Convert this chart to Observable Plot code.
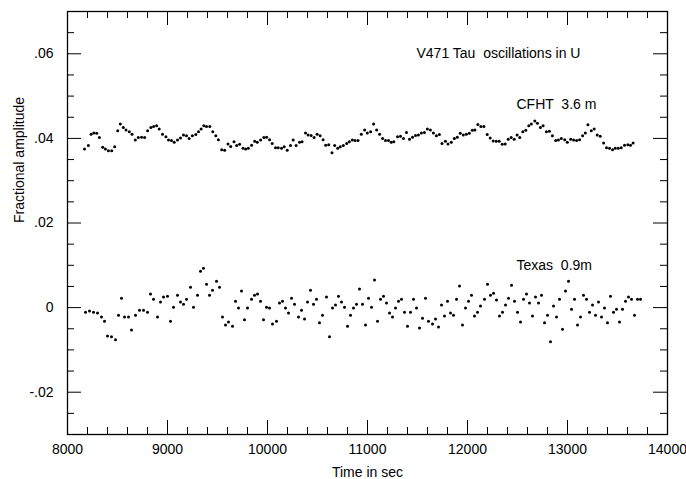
<!DOCTYPE html>
<html>
<head>
<meta charset="utf-8">
<script src="https://cdn.jsdelivr.net/npm/d3@7"></script>
<script src="https://cdn.jsdelivr.net/npm/@observablehq/plot@0.6"></script>
<style>
  html, body { margin: 0; padding: 0; background: white; }
  svg text { white-space: pre; }
</style>
</head>
<body>
<div id="chart"></div>
<script>
// ---- data ----
const cfhtTime = [8170,8209,8236,8263,8292,8319,8352,8379,8409,8442,8472,8502,8528,8558,8585,8618,8645,8678,8708,8741,8771,8801,8834,8861,8891,8917,8950,8984,9010,9040,9067,9100,9130,9160,9190,9216,9249,9283,9310,9336,9363,9390,9423,9453,9483,9509,
9542,9572,9605,9632,9665,9692,9721,9755,9781,9808,9841,9871,9898,9931,9964,9991,10021,10047,10080,10107,10140,10167,10197,10230,10257,10286,10320,10346,10380,10406,10436,10466,10496,10526,10556,10582,10612,10645,10672,10702,10728,10758,10792,10818,10848,10875,10905,10938,10971,10998,
11031,11061,11091,11121,11151,11180,11210,11237,11263,11300,11330,11360,11390,11420,11450,11480,11509,11539,11569,11599,11629,11659,11689,11719,11745,11779,11805,11838,11868,11898,11928,11958,11988,12018,12048,12074,12104,12134,12164,12197,12227,12257,12287,12317,12347,12377,12407,12437,12467,12496,
12523,12553,12583,12613,12639,12673,12699,12729,12756,12789,12819,12849,12882,12909,12938,12972,12998,13032,13061,13091,13121,13151,13178,13204,13238,13267,13297,13327,13361,13390,13420,13450,13477,13507,13537,13570,13603,13630,13656];
const cfhtValue = [.0375,.0383,.0410,.0413,.0412,.0402,.0379,.0375,.0371,.0371,.0380,.0418,.0434,.0426,.0420,.0416,.0410,.0396,.0402,.0403,.0402,.0418,.0426,.0428,.0430,.0422,.0410,.0404,.0396,.0395,.0391,.0396,.0401,.0408,.0406,.0400,.0406,.0409,.0416,.0422,.0430,.0428,.0428,.0416,.0406,.0397,
.0373,.0372,.0387,.0381,.0392,.0383,.0386,.0377,.0375,.0377,.0384,.0393,.0391,.0396,.0402,.0403,.0397,.0388,.0378,.0378,.0377,.0380,.0372,.0383,.0396,.0383,.0391,.0392,.0413,.0408,.0407,.0402,.0410,.0406,.0397,.0384,.0385,.0366,.0383,.0377,.0380,.0383,.0388,.0392,.0396,.0395,.0395,.0410,.0420,.0413,
.0416,.0434,.0420,.0410,.0400,.0395,.0395,.0391,.0392,.0404,.0405,.0400,.0414,.0398,.0403,.0407,.0408,.0413,.0414,.0422,.0420,.0413,.0406,.0409,.0388,.0393,.0387,.0391,.0400,.0403,.0412,.0408,.0410,.0412,.0419,.0420,.0433,.0428,.0428,.0409,.0401,.0394,.0393,.0393,.0386,.0387,.0398,.0402,.0398,.0408,
.0402,.0416,.0419,.0430,.0434,.0441,.0436,.0426,.0430,.0416,.0417,.0406,.0395,.0396,.0400,.0397,.0391,.0398,.0396,.0395,.0397,.0406,.0413,.0432,.0418,.0422,.0408,.0405,.0389,.0378,.0377,.0373,.0377,.0377,.0378,.0384,.0385,.0384,.0389];

const texasTime = [8180,8220,8260,8300,8340,8370,8400,8440,8480,8510,8540,8570,8610,8640,8680,8720,8760,8800,8830,8860,8900,8930,8960,9000,9030,9060,9100,9130,9160,9190,9230,9260,9300,9330,9360,9390,9420,9450,9490,9520,9550,9580,9610,9650,9680,9710,9740,9770,9800,9840,9870,9900,9930,9960,9990,10020,10050,10090,10120,10150,10180,10210,10240,10270,10310,10340,10370,10400,10430,10460,10490,10520,10550,10590,10620,10650,10680,10710,10740,10770,10800,10830,10860,10890,10920,10950,10980,11010,11040,11070,11100,11130,11160,11190,11220,11250,11280,11310,11340,11370,11400,11430,11460,11490,11520,11550,11580,11610,11650,11680,11710,11740,11770,11800,11830,11860,11890,11920,11950,11980,12010,12040,12070,12100,12130,12170,12200,12230,12260,12290,12320,12350,12380,12410,12440,12470,12500,12530,12560,12590,12620,12650,12680,12710,12740,12770,12800,12830,12860,12890,12920,12950,12980,13010,13040,13070,13100,13130,13160,13190,13220,13250,13280,13310,13340,13370,13400,13430,13460,13490,13520,13550,13580,13610,13640,13670,13700,13730];
const texasValue = [-.0011,-.0008,-.0011,-.0013,-.0022,-.0032,-.0067,-.0069,-.0076,-.0018,.0022,-.0022,-.0022,-.0053,-.0018,-.0006,-.0006,-.0011,.0032,.0020,-.0022,.0013,.0025,.0027,-.0032,.0001,.0029,.0013,.0008,.0020,.0048,.0001,.0029,.0086,.0093,.0055,.0029,.0041,.0062,.0048,-.0022,-.0041,-.0034,-.0044,.0015,-.0001,.0039,-.0029,-.0001,.0020,.0029,.0032,.0015,-.0029,.0001,-.0001,-.0039,-.0032,.0011,.0015,-.0001,-.0013,.0022,.0008,-.0022,-.0006,-.0027,.0013,.0041,.0008,.0020,-.0036,-.0018,.0025,-.0069,-.0001,.0006,.0027,.0013,.0001,-.0044,-.0018,-.0001,.0008,.0044,.0008,-.0041,.0022,.0001,.0065,-.0032,.0020,.0027,.0011,-.0013,-.0022,-.0001,.0015,.0020,-.0011,-.0044,-.0011,.0020,-.0001,-.0048,-.0025,.0022,-.0032,-.0039,-.0027,-.0046,.0006,-.0020,.0015,-.0013,-.0018,.0020,.0051,-.0041,-.0001,.0015,.0029,-.0020,-.0011,.0004,.0020,.0055,.0029,.0034,.0018,-.0020,-.0011,.0006,.0022,.0053,.0015,-.0011,-.0034,.0020,.0032,.0011,-.0020,.0025,.0011,.0029,-.0036,-.0018,-.0081,.0004,-.0022,.0020,-.0051,.0039,.0062,-.0004,.0020,-.0041,-.0022,.0029,.0020,-.0011,.0006,-.0018,.0013,-.0022,-.0001,-.0036,.0027,-.0011,-.0004,-.0034,-.0004,.0015,.0025,.0020,-.0018,.0020,.0020];

const xMajor = [8000,9000,10000,11000,12000,13000,14000];
const xMinor = [8200,8400,8600,8800,9200,9400,9600,9800,10200,10400,10600,10800,11200,11400,11600,11800,12200,12400,12600,12800,13200,13400,13600,13800];
const yMajor = [-0.02,0,0.02,0.04,0.06];
const yMajorLabels = ["-.02","0",".02",".04",".06"];
const yMinor = [-0.025,-0.015,-0.01,-0.005,0.005,0.01,0.015,0.025,0.03,0.035,0.045,0.05,0.055,0.065];

const noteText = ["V471 Tau  oscillations in U","CFHT  3.6 m","Texas  0.9m"];
const noteX = [11490,12490,12490];
const noteY = [0.060,0.0481,0.0100];

const xTitle = "Time in sec";
const yTitle = "Fractional amplitude";

// ---- build ----
const cfht = cfhtTime.map((t,i)=>({t, v: cfhtValue[i]}));
const texas = texasTime.map((t,i)=>({t, v: texasValue[i]}));
const notes = noteText.map((s,i)=>({s, x: noteX[i], y: noteY[i]}));

const W = 686, H = 479, mL = 67, mR = 19, mT = 11, mB = 45;
const pH = H - mT - mB, pW = W - mL - mR;
const minorLen = 7, majorLen = 14;

const chart = Plot.plot({
  width: W, height: H,
  marginLeft: mL, marginRight: mR, marginTop: mT, marginBottom: mB,
  style: {fontFamily: "'Liberation Sans', Arial, Helvetica, sans-serif", fontSize: "14px", color: "black", background: "white"},
  x: {domain: [8000,14000]},
  y: {domain: [-0.03,0.07]},
  marks: [
    Plot.frame({stroke: "black", strokeWidth: 1.3}),
    // bottom ticks
    Plot.ruleX(xMinor, {x: d=>d, insetTop: pH - minorLen, stroke: "black"}),
    Plot.ruleX(xMajor, {x: d=>d, insetTop: pH - majorLen, stroke: "black"}),
    // top ticks
    Plot.ruleX(xMinor, {x: d=>d, insetBottom: pH - minorLen, stroke: "black"}),
    Plot.ruleX(xMajor, {x: d=>d, insetBottom: pH - majorLen, stroke: "black"}),
    // left ticks
    Plot.ruleY(yMinor, {y: d=>d, insetRight: pW - minorLen, stroke: "black"}),
    Plot.ruleY(yMajor, {y: d=>d, insetRight: pW - majorLen, stroke: "black"}),
    // right ticks
    Plot.ruleY(yMinor, {y: d=>d, insetLeft: pW - minorLen, stroke: "black"}),
    Plot.ruleY(yMajor, {y: d=>d, insetLeft: pW - majorLen, stroke: "black"}),
    // tick labels
    Plot.axisX({ticks: xMajor, tickSize: 0, tickPadding: 10, tickFormat: d=>String(d), label: null, fontSize: 14}),
    Plot.axisY({ticks: yMajor, tickSize: 0, tickPadding: 14, tickFormat: d=>yMajorLabels[yMajor.indexOf(d)], label: null, fontSize: 14}),
    // axis titles
    Plot.text([xTitle], {frameAnchor: "bottom", text: d=>d, dy: 42, lineAnchor: "bottom", fontSize: 14}),
    Plot.text([yTitle], {frameAnchor: "left", text: d=>d, rotate: -90, dx: -48, fontSize: 14}),
    // data
    Plot.dot(cfht, {x: "t", y: "v", r: 1.5, fill: "black", stroke: null}),
    Plot.dot(texas, {x: "t", y: "v", r: 1.5, fill: "black", stroke: null}),
    // annotations
    Plot.text(notes, {x: "x", y: "y", text: "s", textAnchor: "start", fontSize: 14})
  ]
});
document.getElementById("chart").appendChild(chart);
</script>
</body>
</html>
